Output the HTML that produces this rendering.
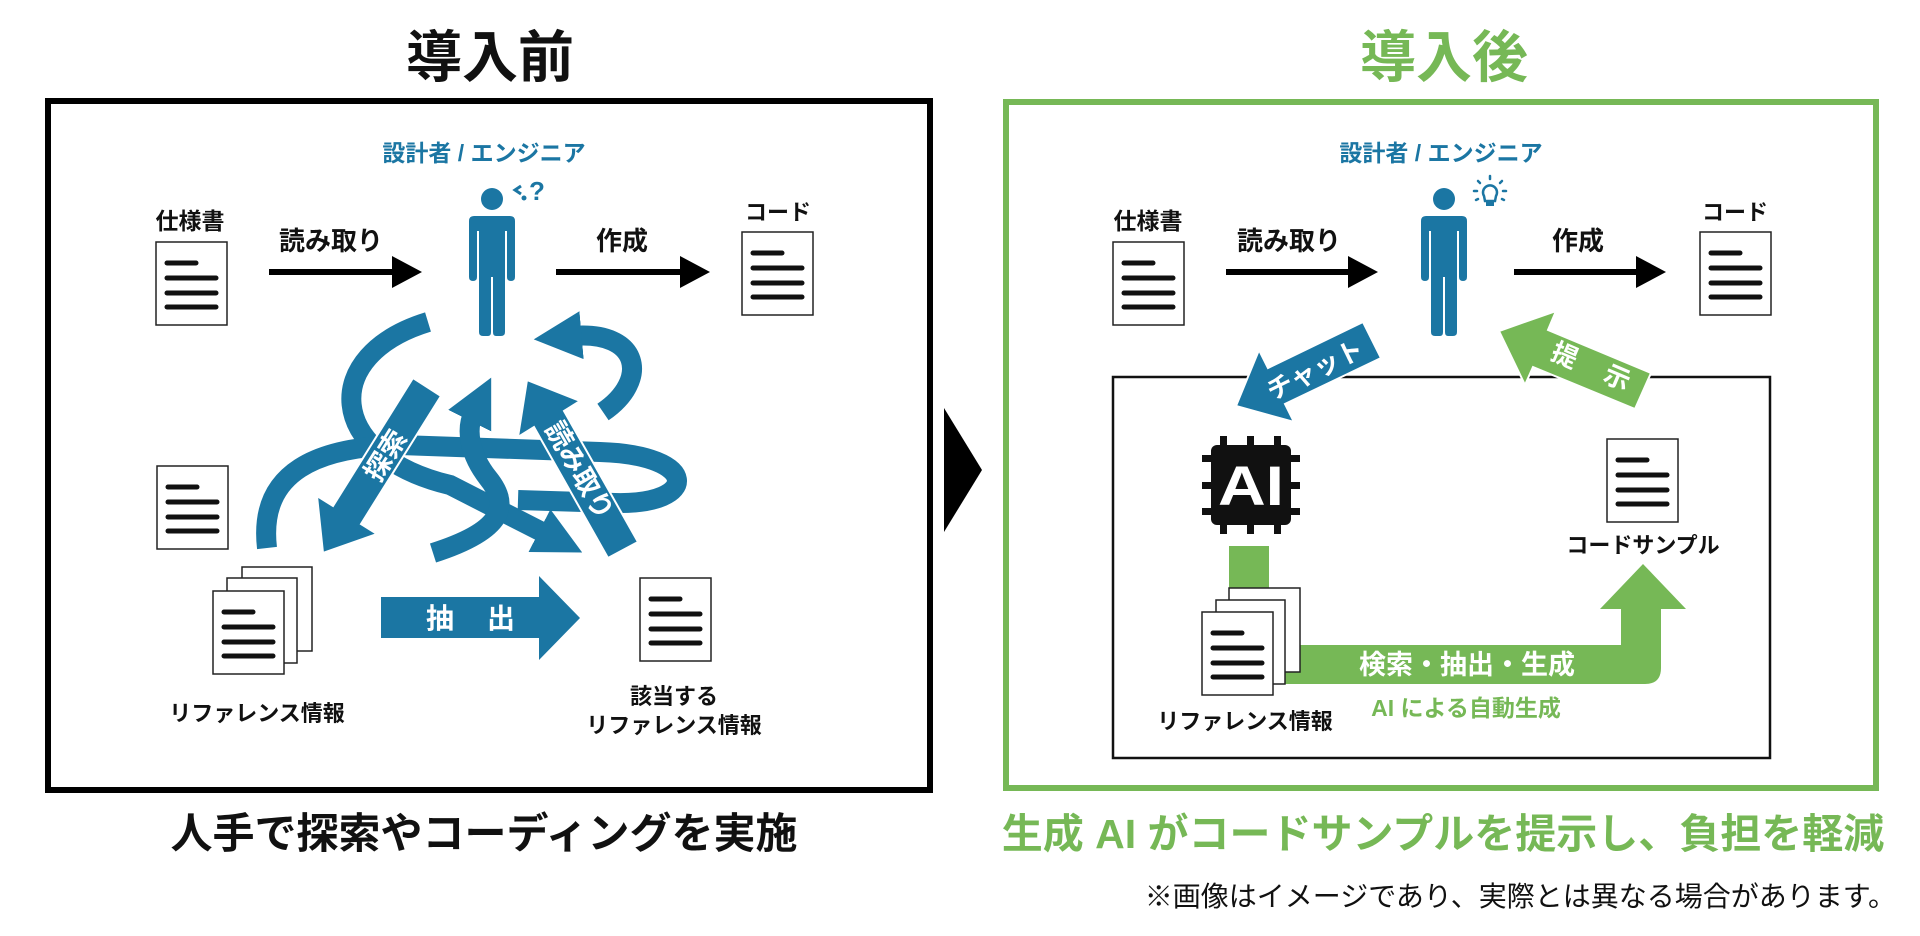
<!DOCTYPE html>
<html><head><meta charset="utf-8"><style>
html,body{margin:0;padding:0;background:#fff}
svg{display:block}
text{font-family:"Liberation Sans","Noto Sans CJK JP",sans-serif;font-weight:bold}
</style></head><body>
<svg width="1920" height="936" viewBox="0 0 1920 936" xmlns="http://www.w3.org/2000/svg">
<defs>
<marker id="h" viewBox="0 0 10 10" refX="2" refY="5" markerWidth="2.4" markerHeight="2.6" orient="auto"><path d="M0,0 L10,5 L0,10 z" fill="#1b76a3"/></marker>
<g id="doc"><rect x="0" y="0" width="71" height="83" fill="#fff" stroke="#222" stroke-width="1.5"/>
<g stroke="#111" stroke-width="5" stroke-linecap="round"><line x1="11" y1="21" x2="40" y2="21"/><line x1="11" y1="36" x2="60" y2="36"/><line x1="11" y1="51" x2="60" y2="51"/><line x1="11" y1="65" x2="60" y2="65"/></g></g>
<g id="person" fill="#1b76a3"><circle cx="0" cy="0" r="11"/>
<path d="M-23,22 Q-23,17 -18,17 L18,17 Q23,17 23,22 L23,78 Q23,82 19,82 Q15,82 15,78 L15,32 L13,32 L13,133 Q13,137 9,137 L4,137 Q1,137 1,133 L1,78 L-1,78 L-1,133 Q-1,137 -4,137 L-9,137 Q-13,137 -13,133 L-13,32 L-15,32 L-15,78 Q-15,82 -19,82 Q-23,82 -23,78 Z"/></g>
</defs>

<!-- LEFT PANEL -->
<text x="490" y="77" font-size="56" text-anchor="middle" fill="#111">導入前</text>
<rect x="48" y="101" width="882" height="689" fill="none" stroke="#000" stroke-width="6"/>
<text x="484" y="161" font-size="23" text-anchor="middle" fill="#1b76a3">設計者 / エンジニア</text>
<use href="#person" x="492" y="199"/>
<path d="M521,186 l-6,4 l6,4" fill="none" stroke="#1b76a3" stroke-width="3"/>
<circle cx="524" cy="198" r="2.5" fill="#1b76a3"/>
<text x="529" y="200" font-size="26" fill="#1b76a3">?</text>
<text x="190" y="229" font-size="23" text-anchor="middle" fill="#111">仕様書</text>
<use href="#doc" x="156" y="242"/>
<text x="331" y="250" font-size="26" text-anchor="middle" fill="#111">読み取り</text>
<line x1="269" y1="272" x2="395" y2="272" stroke="#000" stroke-width="6"/>
<polygon points="392,256 422,272 392,288" fill="#000"/>
<text x="622" y="250" font-size="26" text-anchor="middle" fill="#111">作成</text>
<line x1="556" y1="272" x2="682" y2="272" stroke="#000" stroke-width="6"/>
<polygon points="680,256 710,272 680,288" fill="#000"/>
<text x="778" y="220" font-size="22" text-anchor="middle" fill="#111">コード</text>
<use href="#doc" x="742" y="232"/>
<use href="#doc" x="157" y="466"/>
<rect x="242" y="567" width="70" height="84" fill="#fff" stroke="#222" stroke-width="1.5"/>
<rect x="227" y="578" width="70" height="85" fill="#fff" stroke="#222" stroke-width="1.5"/>
<use href="#doc" x="213" y="591"/>
<text x="257" y="721" font-size="22" text-anchor="middle" fill="#111">リファレンス情報</text>
<use href="#doc" x="640" y="578"/>
<text x="674" y="704" font-size="22" text-anchor="middle" fill="#111">該当する</text>
<text x="674" y="733" font-size="22" text-anchor="middle" fill="#111">リファレンス情報</text>
<!-- extract arrow -->
<polygon points="381,597 539,597 539,576 580,618 539,660 539,638 381,638" fill="#1b76a3"/>
<text x="440" y="628" font-size="28" text-anchor="middle" fill="#fff">抽</text>
<text x="501" y="628" font-size="28" text-anchor="middle" fill="#fff">出</text>
<!-- curly arrows -->
<g fill="none" stroke="#1b76a3" stroke-width="20">
<path d="M428,322 C320,355 325,455 450,485 L548,535" marker-end="url(#h)"/>
<path d="M267,548 C258,470 320,447 400,445 L600,452 C700,455 700,505 615,503 L518,500"/>
<path d="M603,412 C650,380 640,330 572,336" marker-end="url(#h)"/>
<path d="M433,553 C505,530 510,505 488,478 C470,455 465,430 474,412" marker-end="url(#h)"/>
</g>
<polygon points="441,396 361,524 377,534 323,553 317,496 333,506 413,378" fill="#1b76a3" stroke="#fff" stroke-width="2"/>
<text x="385" y="465" font-size="27" text-anchor="middle" fill="#fff" transform="rotate(-58 385 455)">探索</text>
<polygon points="638,542 564,411 580,401 527,380 518,437 534,427 608,558" fill="#1b76a3" stroke="#fff" stroke-width="2"/>
<text x="580" y="480" font-size="27" text-anchor="middle" fill="#fff" transform="rotate(60 580 470)">読み取り</text>
<text x="484" y="848" font-size="42" text-anchor="middle" fill="#111">人手で探索やコーディングを実施</text>

<!-- chevron -->
<polygon points="944,408 982,470 944,532" fill="#000"/>

<!-- RIGHT PANEL -->
<text x="1444" y="77" font-size="56" text-anchor="middle" fill="#76b856">導入後</text>
<rect x="1006" y="102" width="870" height="686" fill="none" stroke="#76b856" stroke-width="6"/>
<text x="1441" y="161" font-size="23" text-anchor="middle" fill="#1b76a3">設計者 / エンジニア</text>
<use href="#person" x="1444" y="199"/>
<g stroke="#1b76a3" stroke-width="2.5" fill="none" stroke-linecap="round">
<path d="M1484,196 a7,7 0 1 1 12,0 l-1,5 h-10 z"/>
<line x1="1490" y1="176" x2="1490" y2="179"/><line x1="1478" y1="181" x2="1480" y2="183"/><line x1="1502" y1="181" x2="1500" y2="183"/>
<line x1="1474" y1="191" x2="1477" y2="191"/><line x1="1503" y1="191" x2="1506" y2="191"/>
<line x1="1476" y1="200" x2="1478" y2="199"/><line x1="1504" y1="200" x2="1502" y2="199"/>
</g>
<rect x="1486" y="201" width="8" height="5" fill="#1b76a3"/>
<text x="1148" y="229" font-size="23" text-anchor="middle" fill="#111">仕様書</text>
<use href="#doc" x="1113" y="242"/>
<text x="1289" y="250" font-size="26" text-anchor="middle" fill="#111">読み取り</text>
<line x1="1226" y1="272" x2="1350" y2="272" stroke="#000" stroke-width="6"/>
<polygon points="1348,256 1378,272 1348,288" fill="#000"/>
<text x="1578" y="250" font-size="26" text-anchor="middle" fill="#111">作成</text>
<line x1="1514" y1="272" x2="1638" y2="272" stroke="#000" stroke-width="6"/>
<polygon points="1636,256 1666,272 1636,288" fill="#000"/>
<text x="1735" y="220" font-size="22" text-anchor="middle" fill="#111">コード</text>
<use href="#doc" x="1700" y="232"/>
<rect x="1113" y="377" width="657" height="381" fill="none" stroke="#111" stroke-width="2.5"/>
<!-- chat arrow -->
<polygon points="1381,358 1285,404 1294,422 1236,406 1259,350 1268,368 1363,322" fill="#1b76a3" stroke="#fff" stroke-width="2"/>
<text x="1315" y="379" font-size="26" text-anchor="middle" fill="#fff" transform="rotate(-26 1315 370)">チャット</text>
<!-- present arrow -->
<polygon points="1651,373 1548,330 1556,311 1499,331 1525,385 1533,367 1635,409" fill="#76b856" stroke="#fff" stroke-width="2"/>
<g transform="rotate(23 1590 365)"><text x="1563" y="375" font-size="26" text-anchor="middle" fill="#fff">提</text><text x="1620" y="375" font-size="26" text-anchor="middle" fill="#fff">示</text></g>
<!-- AI chip -->
<g fill="#111">
<rect x="1211" y="445" width="80" height="80" rx="6"/>
<rect x="1220" y="436" width="7" height="12"/><rect x="1247" y="436" width="7" height="12"/><rect x="1274" y="436" width="7" height="12"/>
<rect x="1220" y="522" width="7" height="12"/><rect x="1247" y="522" width="7" height="12"/><rect x="1274" y="522" width="7" height="12"/>
<rect x="1202" y="455" width="12" height="7" /><rect x="1202" y="482" width="12" height="7"/><rect x="1202" y="508" width="12" height="7"/>
<rect x="1288" y="455" width="12" height="7"/><rect x="1288" y="482" width="12" height="7"/><rect x="1288" y="508" width="12" height="7"/>
</g>
<text x="1251" y="505" font-size="56" text-anchor="middle" fill="#fff" style="font-family:'Liberation Sans',sans-serif" textLength="66" lengthAdjust="spacingAndGlyphs">AI</text>
<rect x="1229" y="546" width="40" height="42" fill="#76b856"/>
<!-- L arrow -->
<path d="M1280,645 L1621,645 L1621,609 L1600,609 L1643,564 L1686,609 L1661,609 L1661,668 Q1661,684 1645,684 L1280,684 Z" fill="#76b856"/>
<rect x="1229" y="588" width="71" height="84" fill="#fff" stroke="#222" stroke-width="1.5"/>
<rect x="1216" y="600" width="69" height="84" fill="#fff" stroke="#222" stroke-width="1.5"/>
<use href="#doc" x="1202" y="612"/>
<text x="1245" y="729" font-size="22" text-anchor="middle" fill="#111">リファレンス情報</text>
<text x="1467" y="674" font-size="27" text-anchor="middle" fill="#fff">検索・抽出・生成</text>
<text x="1466" y="716" font-size="23" text-anchor="middle" fill="#76b856">AI による自動生成</text>
<use href="#doc" x="1607" y="439"/>
<text x="1643" y="553" font-size="22" text-anchor="middle" fill="#111">コードサンプル</text>
<text x="1443" y="848" font-size="41" text-anchor="middle" fill="#76b856">生成 AI がコードサンプルを提示し、負担を軽減</text>
<text x="1896" y="906" font-size="28" text-anchor="end" fill="#111" style="font-weight:normal">※画像はイメージであり、実際とは異なる場合があります。</text>
</svg>
</body></html>
